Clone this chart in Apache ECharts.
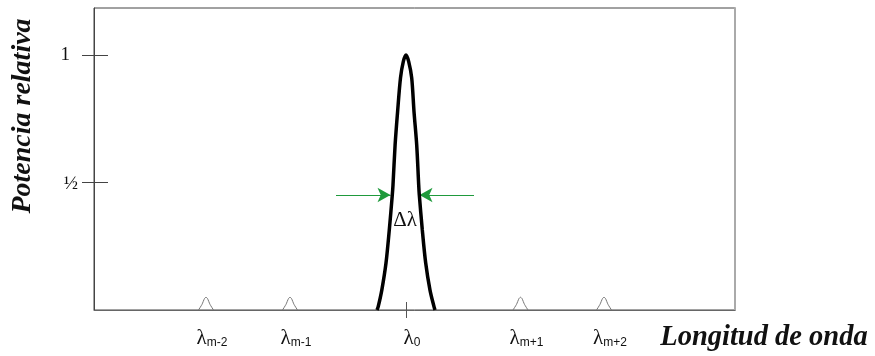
<!DOCTYPE html>
<html>
<head>
<meta charset="utf-8">
<script src="https://cdn.jsdelivr.net/npm/echarts@6/dist/echarts.min.js"></script>
<style>
  html, body { margin: 0; padding: 0; background: #fff; }
  #box { width: 875px; height: 356px; }
</style>
</head>
<body>
<div id="box"></div>
<script>
// main transmission peak (x: offset from lambda0, y: relative power)
var mainX = [-2.9, -2.78, -2.42, -2.0, -1.67, -1.37, -1.3, -1.09, -0.84, -0.55, -0.27, 0,
             0.27, 0.57, 0.8, 1.07, 1.27, 1.33, 1.63, 1.97, 2.4, 2.8, 2.9];
var mainY = [0, 0.013, 0.078, 0.184, 0.314, 0.451, 0.49, 0.647, 0.778, 0.91, 0.974, 1.0,
             0.974, 0.91, 0.778, 0.647, 0.49, 0.451, 0.314, 0.184, 0.078, 0.013, 0];

// small side peaks
var sideXm2 = [-20.75, -20.4, -20.15, -20.0, -19.85, -19.6, -19.25];
var sideXm1 = [-12.35, -12.0, -11.75, -11.6, -11.45, -11.2, -10.85];
var sideXp1 = [10.7, 11.05, 11.3, 11.45, 11.6, 11.85, 12.2];
var sideXp2 = [19.05, 19.4, 19.65, 19.8, 19.95, 20.2, 20.55];
var sideY = [0, 0.022, 0.045, 0.05, 0.045, 0.022, 0];

// tick labels
var xTickValues = [-20, -11.6, 0, 11.45, 19.8];
var xTickLabels = ['m-2', 'm-1', '0', 'm+1', 'm+2'];
var yTickValues = [0.5, 1];
var yTickLabels = ['½', '1'];

// half-width marker
var halfLevel = 0.451;

function pairs(xs, ys) {
	var out = [];
	for (var i = 0; i < xs.length; i++) out.push([xs[i], ys[i]]);
	return out;
}

var myChart = echarts.init(document.getElementById('box'));

var xMin = -31.2, xMax = 32.9;
var yMin = 0, yMax = 1.184;

function sidePeak(xs) {
	return {
		type: 'line',
		data: pairs(xs, sideY),
		symbol: 'none',
		smooth: 0.2,
		lineStyle: { color: '#777', width: 1 },
		silent: true,
		z: 3
	};
}

var option = {
	animation: false,
	backgroundColor: '#fff',
	grid: {
		left: 94, right: 140, top: 8, bottom: 46,
		show: true,
		borderColor: '#444',
		borderWidth: 1
	},
	xAxis: [{
		type: 'value', min: xMin, max: xMax, position: 'bottom',
		axisLine: { show: true, onZero: false, lineStyle: { color: '#666', width: 1 } },
		splitLine: { show: false },
		axisTick: { show: true, customValues: [0], length: 8, lineStyle: { color: '#555' } },
		axisLabel: {
			customValues: xTickValues,
			margin: 18,
			formatter: function (v) {
				var i = xTickValues.indexOf(v);
				return '{l|λ}{s|' + (i >= 0 ? xTickLabels[i] : '') + '}';
			},
			rich: {
				l: { fontSize: 21, fontFamily: 'Liberation Serif', color: '#111', padding: [0, 0, 0, 12] },
				s: { fontSize: 12, fontFamily: 'Liberation Sans', color: '#111', verticalAlign: 'bottom', padding: [8, 0, 0, 0] }
			}
		}
	}, {
		type: 'value', min: xMin, max: xMax, position: 'bottom',
		axisLine: { show: false, onZero: false },
		splitLine: { show: false },
		axisTick: { show: true, inside: true, customValues: [0], length: 8, lineStyle: { color: '#555' } },
		axisLabel: { show: false }
	}],
	yAxis: [{
		type: 'value', min: yMin, max: yMax, position: 'left',
		axisLine: { show: true, onZero: false, lineStyle: { color: '#444', width: 1 } },
		splitLine: { show: false },
		axisTick: { show: true, customValues: yTickValues, length: 12, lineStyle: { color: '#444' } },
		axisLabel: {
			customValues: yTickValues,
			margin: 16,
			formatter: function (v) {
				return v === 1 ? '{one|1}' : '{half|½}';
			},
			rich: {
				one: { fontSize: 19, fontFamily: 'Liberation Serif', color: '#111', padding: [0, 8, 0, 0] },
				half: { fontSize: 19, fontFamily: 'Liberation Serif', color: '#111', padding: [3, 0, 0, 0] }
			}
		}
	}, {
		type: 'value', min: yMin, max: yMax, position: 'left',
		axisLine: { show: false, onZero: false },
		splitLine: { show: false },
		axisTick: { show: true, inside: true, customValues: yTickValues, length: 14, lineStyle: { color: '#444' } },
		axisLabel: { show: false }
	}, {
		type: 'value', min: yMin, max: yMax, position: 'right',
		axisLine: { show: true, onZero: false, lineStyle: { color: '#aaa', width: 2 } },
		splitLine: { show: false },
		axisTick: { show: false },
		axisLabel: { show: false }
	}],
	graphic: [{
		type: 'text',
		x: 23, y: 116,
		rotation: Math.PI / 2,
		style: {
			text: 'Potencia relativa',
			font: 'italic bold 28px "Liberation Serif"',
			fill: '#111',
			align: 'center',
			verticalAlign: 'middle'
		}
	}, {
		type: 'text',
		x: 764, y: 338,
		style: {
			text: 'Longitud de onda',
			font: 'italic bold 28.5px "Liberation Serif"',
			fill: '#111',
			align: 'center',
			verticalAlign: 'middle'
		}
	}],
	series: [{
		type: 'line',
		data: pairs(mainX, mainY),
		symbol: 'none',
		smooth: 0.3,
		lineStyle: { color: '#000', width: 3.5 },
		z: 5,
		markLine: {
			silent: true,
			symbol: ['none', 'arrow'],
			symbolSize: [11, 13],
			lineStyle: { color: '#1f9a3c', width: 1.2, type: 'solid' },
			label: { show: false },
			data: [
				[{ coord: [-7.0, halfLevel] }, { coord: [-1.55, halfLevel] }],
				[{ coord: [6.8, halfLevel] }, { coord: [1.35, halfLevel] }]
			]
		},
		markPoint: {
			silent: true,
			symbol: 'circle',
			symbolSize: 0,
			label: {
				show: true,
				formatter: 'Δλ',
				fontSize: 21,
				fontFamily: 'Liberation Serif',
				color: '#111'
			},
			data: [{ coord: [-0.1, 0.35] }]
		}
	},
	sidePeak(sideXm2), sidePeak(sideXm1), sidePeak(sideXp1), sidePeak(sideXp2)]
};

myChart.setOption(option);
</script>
</body>
</html>
